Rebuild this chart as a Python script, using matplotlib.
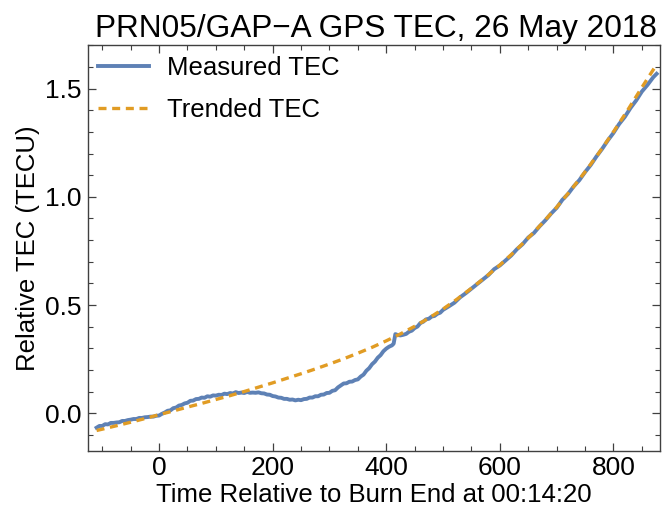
import matplotlib
matplotlib.use("Agg")
import matplotlib.pyplot as plt
from matplotlib.ticker import MultipleLocator

plt.rcParams['font.family'] = ['Liberation Sans', 'DejaVu Sans']

# Measured TEC (time in s relative to burn end, relative TEC in TECU)
meas_t = [-110, -105, -100, -95, -90, -85, -80, -75, -70, -65, -60, -55, -50, -45, -40, -35,
          -30, -25, -20, -15, -10, -5, 0, 5, 10, 15, 20, 25, 30, 35, 40, 45, 50, 55, 60,
          65, 70, 75, 80, 85, 90, 95, 100, 105, 110, 115, 120, 125, 130, 135, 140, 145,
          150, 155, 160, 165, 170, 175, 180, 185, 190, 195, 200, 205, 210, 215, 220, 225,
          230, 235, 240, 245, 250, 255, 260, 265, 270, 275, 280, 285, 290, 295, 300, 305,
          310, 315, 320, 325, 330, 335, 340, 345, 350, 355, 360, 365, 370, 375, 380, 385,
          390, 395, 400, 405, 410, 413, 416, 420, 425, 430, 435, 440, 445, 450, 455, 460,
          465, 470, 475, 480, 485, 490, 495, 500, 510, 520, 530, 540, 550, 560, 570, 580,
          590, 600, 610, 620, 630, 640, 650, 660, 670, 680, 690, 700, 710, 720, 730, 740,
          750, 760, 770, 780, 790, 800, 810, 820, 830, 840, 850, 860, 870, 876]
meas_v = [-0.066, -0.058, -0.058, -0.050, -0.051, -0.044, -0.044, -0.042, -0.041, -0.035,
          -0.035, -0.031, -0.029, -0.026, -0.026, -0.021, -0.021, -0.018, -0.017, -0.015,
          -0.015, -0.011, -0.010, -0.002, 0.004, 0.012, 0.014, 0.024, 0.027, 0.036, 0.039,
          0.046, 0.049, 0.058, 0.059, 0.066, 0.067, 0.073, 0.072, 0.079, 0.077, 0.083,
          0.082, 0.086, 0.085, 0.091, 0.089, 0.094, 0.092, 0.098, 0.094, 0.096, 0.094,
          0.099, 0.095, 0.096, 0.095, 0.097, 0.093, 0.092, 0.087, 0.086, 0.080, 0.078,
          0.073, 0.072, 0.067, 0.067, 0.063, 0.064, 0.060, 0.063, 0.061, 0.066, 0.067,
          0.073, 0.073, 0.079, 0.079, 0.086, 0.087, 0.094, 0.095, 0.104, 0.107, 0.120,
          0.129, 0.138, 0.139, 0.146, 0.147, 0.154, 0.157, 0.170, 0.179, 0.197, 0.209,
          0.227, 0.239, 0.257, 0.269, 0.287, 0.299, 0.308, 0.314, 0.322, 0.366, 0.362,
          0.360, 0.363, 0.367, 0.377, 0.382, 0.394, 0.401, 0.417, 0.423, 0.434, 0.437,
          0.447, 0.450, 0.460, 0.465, 0.478, 0.494, 0.511, 0.536, 0.555, 0.576, 0.597,
          0.618, 0.639, 0.666, 0.683, 0.706, 0.729, 0.758, 0.781, 0.812, 0.833, 0.864,
          0.891, 0.922, 0.949, 0.986, 1.013, 1.048, 1.077, 1.114, 1.147, 1.186, 1.221,
          1.260, 1.295, 1.336, 1.369, 1.410, 1.445, 1.486, 1.517, 1.552, 1.568]

# Trended TEC
trend_t = [-110, -100, -75, -50, -25, 0, 25, 50, 75, 100, 125, 150, 175, 200, 225, 250,
           275, 300, 325, 350, 375, 400, 425, 450, 475, 500, 525, 550, 575, 600, 625, 650,
           675, 700, 725, 750, 775, 800, 825, 850, 875]
trend_v = [-0.079, -0.073, -0.057, -0.041, -0.024, -0.006, 0.011, 0.029, 0.046, 0.064,
           0.082, 0.101, 0.121, 0.141, 0.162, 0.183, 0.205, 0.228, 0.252, 0.278, 0.305,
           0.335, 0.367, 0.402, 0.440, 0.482, 0.528, 0.578, 0.630, 0.685, 0.745, 0.810,
           0.879, 0.952, 1.031, 1.115, 1.205, 1.300, 1.400, 1.505, 1.607]

title = "PRN05/GAP\u2212A GPS TEC, 26 May 2018"
xlabel = "Time Relative to Burn End at 00:14:20"
ylabel = "Relative TEC (TECU)"
labels = ["Measured TEC", "Trended TEC"]

fig = plt.figure(figsize=(6.63, 5.2), dpi=100)
ax = fig.add_axes([0.132, 0.133, 0.8635, 0.780])

ax.plot(meas_t, meas_v, color='#5E81B5', lw=2.8, label=labels[0])
ax.plot(trend_t, trend_v, color='#E19C24', lw=2.4, ls=(0, (2.4, 1.7)), label=labels[1])

ax.set_xlim(-126, 882)
ax.set_ylim(-0.173, 1.70)
ax.xaxis.set_major_locator(MultipleLocator(200))
ax.xaxis.set_minor_locator(MultipleLocator(50))
ax.yaxis.set_major_locator(MultipleLocator(0.5))
ax.yaxis.set_minor_locator(MultipleLocator(0.1))
ax.yaxis.set_major_formatter(matplotlib.ticker.FormatStrFormatter('%.1f'))

for s in ax.spines.values():
    s.set_color('#404040')
    s.set_linewidth(1.0)
ax.tick_params(which='both', direction='in', top=True, right=True, color='#404040',
               labelsize=19, pad=4)
ax.tick_params(which='major', length=6, width=0.9)
ax.tick_params(which='minor', length=3.5, width=0.8)

ax.set_title(title, fontsize=22.7, pad=6, x=0.504)
ax.set_xlabel(xlabel, fontsize=18.5, labelpad=2)
ax.set_ylabel(ylabel, fontsize=18.5, labelpad=4)

ax.legend(loc='upper left', frameon=False, fontsize=18.5, handlelength=2.0,
          handletextpad=0.7, borderaxespad=0.1, borderpad=0.3, labelspacing=0.72)

fig.savefig("out.png", dpi=100)
